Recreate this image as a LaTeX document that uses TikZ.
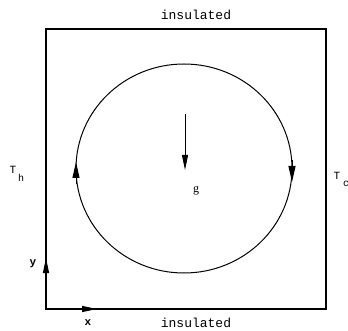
\documentclass[tikz,border=0pt]{standalone}
\usepackage{fontspec}
\setmainfont{Liberation Serif}
\newfontfamily\monofont{Liberation Mono}
\usetikzlibrary{arrows.meta}
\begin{document}
\begin{tikzpicture}[x=1pt,y=-1pt,
  wall/.style={line width=1.1pt},
  tip/.style={-{Stealth[length=15pt,width=6pt,inset=0pt]}},
  ctip/.style={line width=1pt,-{Stealth[length=16pt,width=7pt,inset=0pt]}},
  lbl/.style={inner sep=0pt,font=\monofont\fontsize{13}{15}\selectfont},
  sym/.style={inner sep=0pt,font=\monofont\fontsize{11}{13}\selectfont},
  bsym/.style={inner sep=0pt,font=\monofont\bfseries\fontsize{11}{13}\selectfont}]
\useasboundingbox (0,0) rectangle (348,331);
\coordinate (bl) at (46,309);
\coordinate (tr) at (326,29);
\draw[wall] (bl) rectangle (tr);
% circulation
\draw[line width=1pt] (184,168.5) ellipse [x radius=108, y radius=104.5];
\coordinate (r1) at (292,160);
\coordinate (r2) at (292,182);
\coordinate (l1) at (76,184);
\coordinate (l2) at (76,162);
\draw[ctip] (r1) -- (r2);
\draw[ctip] (l1) -- (l2);
% gravity
\coordinate (g1) at (185,114);
\coordinate (g2) at (185,170);
\draw[line width=1pt,tip] (g1) -- (g2);
\node[font=\fontsize{12}{14}\selectfont,inner sep=0pt] (g) at (196,191) {g};
% axes
\coordinate (ytip) at (46,258);
\coordinate (xtip) at (97,309);
\draw[wall,tip] (bl) -- (ytip);
\draw[wall,tip] (bl) -- (xtip);
\node[bsym] (ylab) at (33,264) {y};
\node[bsym] (xlab) at (88,323) {x};
% labels
\node[lbl] (top) at (196,15) {insulated};
\node[lbl] (bot) at (196,323) {insulated};
\node[sym] (th) at (13,170) {T};
\node[sym,font=\monofont\fontsize{10}{12}\selectfont] (thsub) at (21,178) {h};
\node[sym] (tc) at (337,176) {T};
\node[sym,font=\monofont\fontsize{10}{12}\selectfont] (tcsub) at (346,184) {c};
\end{tikzpicture}
\end{document}
